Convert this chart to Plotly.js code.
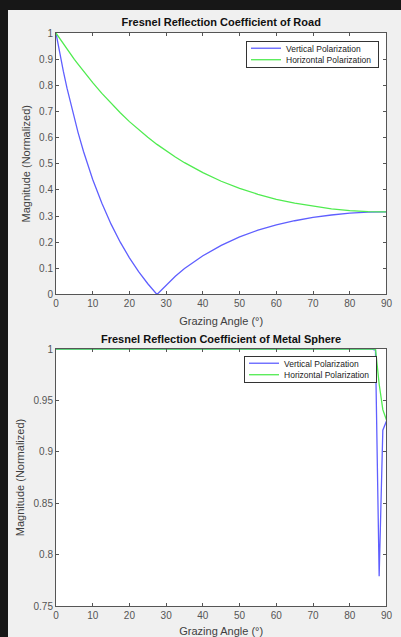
<!DOCTYPE html>
<html>
<head>
<meta charset="utf-8">
<script src="https://cdn.plot.ly/plotly-3.0.1.min.js"></script>
<style>
  html, body { margin: 0; padding: 0; background: #171717; width: 401px; height: 637px; overflow: hidden; }
  #chart { position: absolute; left: 8px; top: 10px; width: 393px; height: 627px; }
</style>
</head>
<body>
<div id="chart"></div>
<script>
// Road: grazing angle (deg) and reflection magnitudes
const roadAngle = [0, 1, 2, 3, 4, 5, 6, 7.5, 10, 12.5, 15, 17.5, 20, 22.5, 25, 27.5, 30, 32.5, 35, 40, 45, 50, 55, 60, 65, 70, 75, 80, 85, 90];
const roadVertical = [1, 0.924, 0.854, 0.789, 0.729, 0.672, 0.620, 0.547, 0.440, 0.349, 0.269, 0.200, 0.140, 0.087, 0.041, 0.000, 0.037, 0.070, 0.099, 0.148, 0.188, 0.220, 0.246, 0.266, 0.282, 0.295, 0.304, 0.311, 0.315, 0.316];
const roadHorizontal = [1, 0.979, 0.958, 0.938, 0.919, 0.899, 0.881, 0.853, 0.810, 0.769, 0.731, 0.695, 0.661, 0.630, 0.601, 0.574, 0.549, 0.526, 0.504, 0.466, 0.433, 0.406, 0.383, 0.364, 0.349, 0.337, 0.327, 0.321, 0.317, 0.316];

// Metal sphere
const metalAngle = [0, 10, 20, 30, 40, 50, 60, 70, 80, 86, 87, 88, 89, 90];
const metalVertical = [1, 1, 1, 1, 1, 1, 1, 1, 1, 1, 0.999, 0.779, 0.921, 0.930];
const metalHorizontal = [1, 1, 1, 1, 1, 1, 1, 1, 1, 1, 1.0, 0.966, 0.941, 0.931];

const seriesNames = ['Vertical Polarization', 'Horizontal Polarization'];
const xTicks = [0, 10, 20, 30, 40, 50, 60, 70, 80, 90];
const yTicksRoad = [0, 0.1, 0.2, 0.3, 0.4, 0.5, 0.6, 0.7, 0.8, 0.9, 1];
const yTickLabelsRoad = ['0', '0.1', '0.2', '0.3', '0.4', '0.5', '0.6', '0.7', '0.8', '0.9', '1'];
const yTicksMetal = [0.75, 0.8, 0.85, 0.9, 0.95, 1];
const yTickLabelsMetal = ['0.75', '0.8', '0.85', '0.9', '0.95', '1'];

const FONT = 'Liberation Sans, Arial, Helvetica, sans-serif';
const blue = 'rgb(95,95,255)';
const green = 'rgb(80,235,80)';

const traces = [
  {x: roadAngle, y: roadVertical, name: seriesNames[0], mode: 'lines', line: {color: blue, width: 1.3}, xaxis: 'x', yaxis: 'y', legend: 'legend'},
  {x: roadAngle, y: roadHorizontal, name: seriesNames[1], mode: 'lines', line: {color: green, width: 1.3}, xaxis: 'x', yaxis: 'y', legend: 'legend'},
  {x: metalAngle, y: metalVertical, name: seriesNames[0], mode: 'lines', line: {color: blue, width: 1.3}, xaxis: 'x2', yaxis: 'y2', legend: 'legend2'},
  {x: metalAngle, y: metalHorizontal, name: seriesNames[1], mode: 'lines', line: {color: green, width: 1.3}, xaxis: 'x2', yaxis: 'y2', legend: 'legend2'}
];

function xAxis(anchor) {
  return {
    domain: [0.1221, 0.9631], anchor: anchor, range: [0, 90],
    tickvals: xTicks, ticktext: xTicks.map(String),
    ticks: 'inside', ticklen: 3, tickcolor: '#555', showline: true, linecolor: '#555', linewidth: 1,
    mirror: 'ticks', showgrid: false, zeroline: false,
    tickfont: {family: FONT, size: 10, color: '#555'},
    title: {text: 'Grazing Angle (°)', font: {family: FONT, size: 11, color: '#404040'}, standoff: 8}
  };
}
function yAxis(anchor, dom, rng, tv, tt) {
  return {
    domain: dom, anchor: anchor, range: rng,
    tickvals: tv, ticktext: tt,
    ticks: 'inside', ticklen: 3, tickcolor: '#555', showline: true, linecolor: '#555', linewidth: 1,
    mirror: 'ticks', showgrid: false, zeroline: false,
    tickfont: {family: FONT, size: 10, color: '#555'},
    title: {text: 'Magnitude (Normalized)', font: {family: FONT, size: 11, color: '#404040'}, standoff: 6}
  };
}

const legendStyle = {
  font: {family: FONT, size: 8.5, color: '#222'},
  bgcolor: '#ffffff', bordercolor: '#333', borderwidth: 1,
  xanchor: 'right', yanchor: 'top', xref: 'paper', yref: 'paper',
  itemwidth: 30, tracegroupgap: 0
};

const layout = {
  width: 393, height: 627,
  margin: {l: 0, r: 0, t: 0, b: 0},
  paper_bgcolor: '#f0f0f0', plot_bgcolor: '#ffffff',
  font: {family: FONT},
  showlegend: true,
  title: {text: '<b>Fresnel Reflection Coefficient of Road</b>', font: {family: FONT, size: 11, color: '#111'}, x: 0.5426, xanchor: 'center', y: 0.9805, yanchor: 'middle', xref: 'paper', yref: 'paper'},
  xaxis: xAxis('y'),
  yaxis: yAxis('x', [0.5463, 0.9633], [0, 1], yTicksRoad, yTickLabelsRoad),
  xaxis2: xAxis('y2'),
  yaxis2: yAxis('x2', [0.0494, 0.4593], [0.75, 1], yTicksMetal, yTickLabelsMetal),
  legend: Object.assign({x: 0.944, y: 0.951}, legendStyle),
  legend2: Object.assign({x: 0.939, y: 0.4486}, legendStyle),
  annotations: [
    {text: '<b>Fresnel Reflection Coefficient of Metal Sphere</b>', xref: 'paper', yref: 'paper', x: 0.5426, y: 0.4753, xanchor: 'center', yanchor: 'middle', showarrow: false, font: {family: FONT, size: 11, color: '#111'}}
  ]
};

Plotly.newPlot('chart', traces, layout, {displayModeBar: false, staticPlot: true}).then(function (gd) {
  // Compact the legend rows to MATLAB-like spacing
  const rowH = 11.5;
  gd.querySelectorAll('g.legend, g.legend2').forEach(function (leg) {
    const items = leg.querySelectorAll('g.traces');
    items.forEach(function (it, i) {
      it.setAttribute('transform', 'translate(0,' + (7.5 + i * rowH) + ')');
    });
    const h = items.length * rowH + 3.5;
    leg.querySelectorAll('rect.bg').forEach(function (r) { r.setAttribute('height', h); });
    const sb = leg.querySelector('g.scrollbox');
    if (sb) sb.removeAttribute('clip-path');
  });
});
</script>
</body>
</html>
